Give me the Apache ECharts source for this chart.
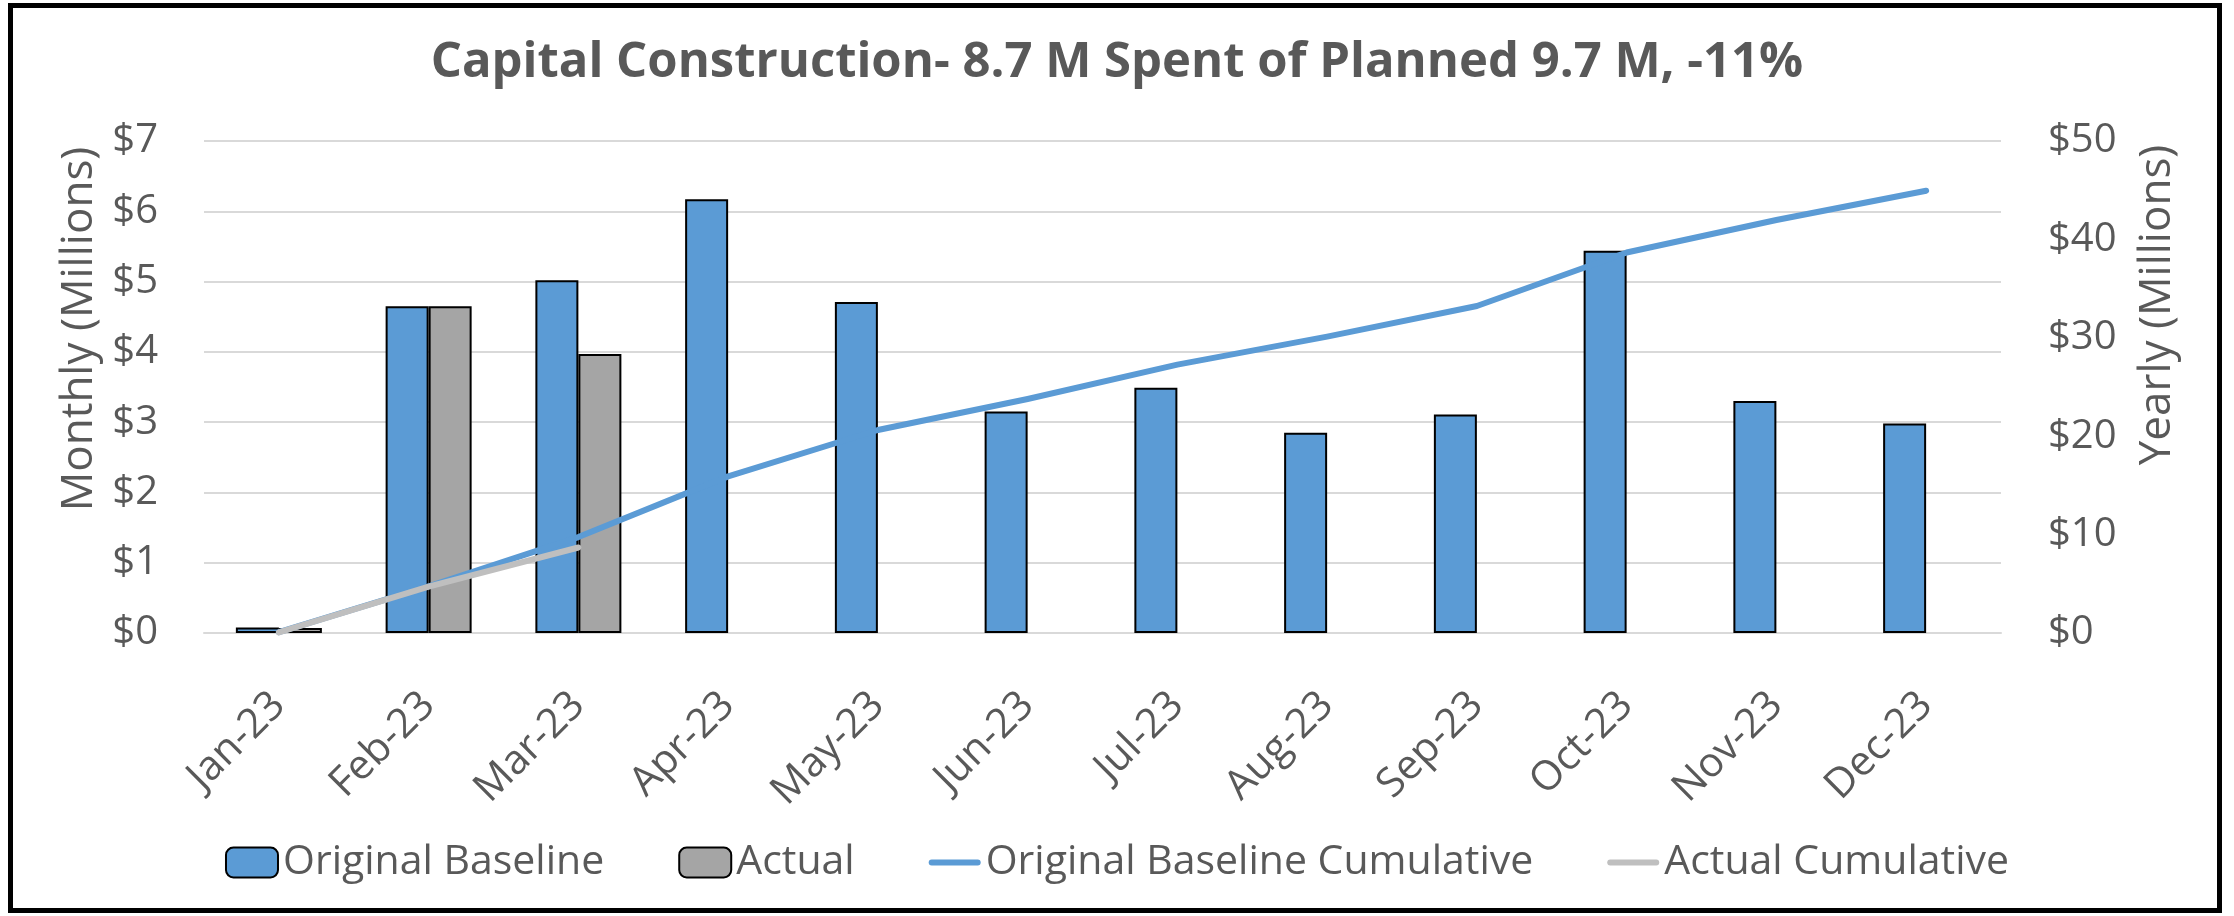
<!DOCTYPE html>
<html>
<head>
<meta charset="utf-8">
<script src="https://cdn.jsdelivr.net/npm/echarts@6/dist/echarts.min.js"></script>
<style>
	html, body { margin: 0; padding: 0; background: #fff; }
	#chart { width: 2234px; height: 916px; }
	#frame { position: absolute; left: 8px; top: 3px; width: 2204px; height: 900px; border: 5px solid #000; pointer-events: none; }
</style>
</head>
<body>
<div id="chart"></div>
<div id="frame"></div>
<script>
// 月份
var months = ['Jan-23', 'Feb-23', 'Mar-23', 'Apr-23', 'May-23', 'Jun-23', 'Jul-23', 'Aug-23', 'Sep-23', 'Oct-23', 'Nov-23', 'Dec-23'];

// 月度数据 (百万)
var baseline = [0.08, 4.65, 5.02, 6.17, 4.71, 3.15, 3.49, 2.85, 3.11, 5.44, 3.30, 2.98];
var actual = [0.07, 4.65, 3.97];

// 累计数据 (百万, 右轴)
var baselineCum = [0.08, 4.73, 9.75, 15.92, 20.63, 23.78, 27.27, 30.12, 33.23, 38.67, 41.97, 44.95];
var actualCum = [0.07, 4.72, 8.69];

var leftTicks = { min: 0, max: 7, interval: 1 };
var rightTicks = { min: 0, max: 50, interval: 10 };

var textColor = '#595959';
var gridColor = '#D9D9D9';
var fontFamily = '"Open Sans", "Liberation Sans", sans-serif';

// 图例中折线的图标
var lineIcon = 'path://M3,0 L49,0 A3,3 0 0 1 49,6 L3,6 A3,3 0 0 1 3,0 Z';

var myChart = echarts.init(document.getElementById('chart'));

var option = {
	backgroundColor: '#fff',
	animation: false,
	textStyle: { fontFamily: fontFamily, color: textColor },
	title: {
		text: 'Capital Construction- 8.7 M Spent of Planned 9.7 M, -11%',
		left: 'center',
		top: 34,
		textStyle: { fontFamily: fontFamily, fontSize: 49, fontWeight: 'bold', color: textColor }
	},
	legend: {
		bottom: 28,
		left: 'center',
		itemWidth: 52,
		itemHeight: 30,
		itemGap: 74,
		textStyle: { fontSize: 41, color: textColor, fontFamily: fontFamily },
		data: [
			{ name: 'Original Baseline' },
			{ name: 'Actual' },
			{ name: 'Original Baseline Cumulative', icon: lineIcon },
			{ name: 'Actual Cumulative', icon: lineIcon }
		]
	},
	grid: { left: 204, right: 233, top: 141, bottom: 283 },
	xAxis: {
		type: 'category',
		data: months,
		axisLine: { lineStyle: { color: gridColor, width: 2 } },
		axisTick: { length: 17, lineStyle: { color: gridColor, width: 2 } },
		axisLabel: { rotate: 45, margin: 66, fontSize: 41, color: textColor, interval: 0 }
	},
	yAxis: [{
		type: 'value',
		min: leftTicks.min,
		max: leftTicks.max,
		interval: leftTicks.interval,
		name: 'Monthly (Millions)',
		nameLocation: 'middle',
		nameGap: 101,
		nameTextStyle: { fontSize: 44, color: textColor, padding: [0, 0, 0, 116] },
		axisLine: { show: false },
		axisTick: { show: false },
		axisLabel: { fontSize: 40, color: textColor, margin: 46, formatter: function (v) { return '$' + v; } },
		splitLine: { lineStyle: { color: gridColor, width: 2 } }
	}, {
		type: 'value',
		min: rightTicks.min,
		max: rightTicks.max,
		interval: rightTicks.interval,
		name: 'Yearly (Millions)',
		nameLocation: 'middle',
		nameGap: 134,
		nameRotate: 90,
		nameTextStyle: { fontSize: 44, color: textColor, padding: [0, 0, 0, 164] },
		axisLine: { show: false },
		axisTick: { show: false },
		axisLabel: { fontSize: 40, color: textColor, margin: 47, formatter: function (v) { return '$' + v; } },
		splitLine: { show: false }
	}],
	series: [{
		name: 'Original Baseline',
		type: 'bar',
		data: baseline,
		barWidth: 43,
		barGap: '0%',
		itemStyle: { color: '#5B9BD5', borderColor: '#000', borderWidth: 2 }
	}, {
		name: 'Actual',
		type: 'bar',
		data: actual,
		barWidth: 43,
		barGap: '0%',
		itemStyle: { color: '#A5A5A5', borderColor: '#000', borderWidth: 2 }
	}, {
		name: 'Original Baseline Cumulative',
		type: 'line',
		yAxisIndex: 1,
		data: baselineCum,
		symbol: 'none',
		lineStyle: { color: '#5B9BD5', width: 6, cap: 'round', join: 'round' },
		itemStyle: { color: '#5B9BD5' }
	}, {
		name: 'Actual Cumulative',
		type: 'line',
		yAxisIndex: 1,
		data: actualCum,
		symbol: 'none',
		lineStyle: { color: '#BFBFBF', width: 6, cap: 'round', join: 'round' },
		itemStyle: { color: '#BFBFBF' }
	}]
};

myChart.setOption(option);
</script>
</body>
</html>
